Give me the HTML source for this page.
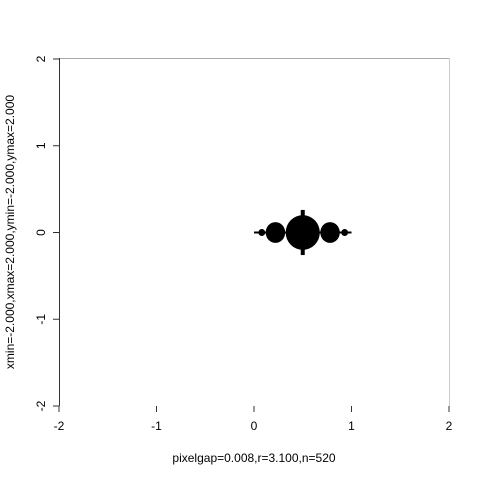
<!DOCTYPE html>
<html><head><meta charset="utf-8"><style>
body{margin:0;background:#fff}
text{font-family:"Liberation Sans",sans-serif;font-size:12px;fill:#000}
</style></head><body>
<svg id="c" width="480" height="480" viewBox="0 0 480 480">
<rect width="480" height="480" fill="#fff"/>
<line x1="59" y1="58.5" x2="450" y2="58.5" stroke="#aaa"/>
<line x1="449.5" y1="58" x2="449.5" y2="406" stroke="#ccc"/>
<line x1="59.5" y1="58" x2="59.5" y2="406" stroke="#333"/>
<g id="marks"></g>
<g id="axes"></g>
<text x="254" y="462" text-anchor="middle">pixelgap=0.008,r=3.100,n=520</text>
<text transform="translate(14,232) rotate(-90)" text-anchor="middle">xmin=-2.000,xmax=2.000,ymin=-2.000,ymax=2.000</text>
</svg>
<script>
const xTicks=[-2,-1,0,1,2];
const yTicks=[-2,-1,0,1,2];
const blobX=[0.5,0.22,0.78,0.08,0.93];
const blobY=[0,0,0,0,0];
const blobRx=[0.175,0.1,0.1,0.035,0.035];
const blobRy=[0.2,0.12,0.12,0.04,0.04];
const spikeX=[0.5,0.5];
const spikeY0=[0.17,-0.17];
const spikeY1=[0.26,-0.26];
const lineX=[0.0,1.0];
const sx=v=>59+(v+2)*97.5;
const sy=v=>232.5-v*86.75;
const NS="http://www.w3.org/2000/svg";
const m=document.getElementById('marks'),ax=document.getElementById('axes');
function mk(t,a,p){const e=document.createElementNS(NS,t);for(const k in a)e.setAttribute(k,a[k]);p.appendChild(e);return e;}
const hl=mk('line',{x1:sx(lineX[0]),x2:sx(lineX[1]),y1:sy(0),y2:sy(0),stroke:'#000','stroke-width':2},m);


blobX.forEach((x,i)=>{const e=mk('ellipse',{cx:sx(x),cy:sy(blobY[i]),rx:blobRx[i]*97.5,ry:blobRy[i]*86.75,fill:'#000'},m);

});
spikeX.forEach((x,i)=>{const e=mk('line',{x1:sx(x),x2:sx(x),y1:sy(spikeY0[i]),y2:sy(spikeY1[i]),stroke:'#000','stroke-width':4},m);

});
xTicks.forEach(v=>{const x=sx(v);
const t=mk('line',{x1:x,x2:x,y1:406,y2:412,stroke:'#333'},ax);


const l=mk('text',{x:x,y:430,'text-anchor':'middle'},ax);l.textContent=v;

});
yTicks.forEach(v=>{const y=sy(v);
const t=mk('line',{x1:53,x2:59,y1:y,y2:y,stroke:'#333'},ax);


const l=mk('text',{transform:`translate(45,${y}) rotate(-90)`,'text-anchor':'middle'},ax);l.textContent=v;

});
</script>
</body></html>
